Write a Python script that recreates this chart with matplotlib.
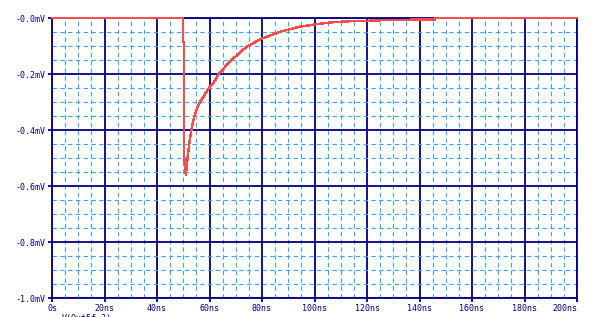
import matplotlib
matplotlib.use("Agg")
import matplotlib.pyplot as plt
from matplotlib.ticker import MultipleLocator

# time in ns, voltage in mV
t_ns = [0, 50.0, 50.0, 50.4, 50.4, 50.8, 51.0, 51.7, 52.3, 53.2, 54.2, 55.7,
        57.3, 59.7, 62.1, 63.4, 65.6, 68.4, 74.2, 80.1, 86.9, 94.5, 101.5,
        107.2, 112.3, 120.0, 128.0, 137.0, 146.0, 146.0, 200.0]
v_mV = [0.0, 0.0, -0.085, -0.085, -0.50, -0.54, -0.561, -0.495, -0.448, -0.394,
        -0.352, -0.311, -0.287, -0.251, -0.224, -0.200, -0.178, -0.150, -0.102,
        -0.073, -0.049, -0.031, -0.021, -0.015, -0.012, -0.010, -0.007, -0.006,
        -0.005, 0.0, 0.0]

x_ticks = [0, 20, 40, 60, 80, 100, 120, 140, 160, 180, 200]
x_labels = ["0s", "20ns", "40ns", "60ns", "80ns", "100ns", "120ns", "140ns",
            "160ns", "180ns", "200ns"]
y_ticks = [0.0, -0.2, -0.4, -0.6, -0.8, -1.0]
y_labels = ["-0.0mV", "-0.2mV", "-0.4mV", "-0.6mV", "-0.8mV", "-1.0mV"]
trace_label = "V(Out5f.3)"

W, H = 595, 317
fig = plt.figure(figsize=(W / 100, H / 100), dpi=100)
ax = fig.add_axes([52 / W, 1 - 298 / H, (577 - 52) / W, (298 - 18) / H])

navy = "#000080"
minor_c = "#3fa0ff"
red = "#ff4b4b"

ax.set_xlim(0, 200)
ax.set_ylim(-1.0, 0.0)

ax.xaxis.set_minor_locator(MultipleLocator(5))
ax.yaxis.set_minor_locator(MultipleLocator(0.05))
ax.grid(which="minor", color=minor_c, linestyle=(0, (4, 3)), linewidth=0.8)
ax.grid(which="major", color=navy, linestyle="-", linewidth=1.3)
ax.set_axisbelow(True)

ax.set_xticks(x_ticks)
ax.set_xticklabels(x_labels)
ax.set_yticks(y_ticks)
ax.set_yticklabels(y_labels)
ax.tick_params(which="minor", length=0)
ax.tick_params(which="major", length=3, width=1.3, color=navy,
               labelsize=6, labelcolor=navy, pad=1.5)
for lab in ax.get_xticklabels() + ax.get_yticklabels():
    lab.set_fontfamily("DejaVu Sans Mono")
ax.get_xticklabels()[-1].set_horizontalalignment("right")

for s in ax.spines.values():
    s.set_color(navy)
    s.set_linewidth(1.3)

ax.plot(t_ns, v_mV, color=red, linewidth=1.0, antialiased=False,
        clip_on=False, zorder=5)

fig.text(62 / W, 1 - 313.5 / H, trace_label, fontsize=6, color=navy,
         family="DejaVu Sans Mono", va="top", ha="left")

fig.savefig("out.png", dpi=100, facecolor="white")
